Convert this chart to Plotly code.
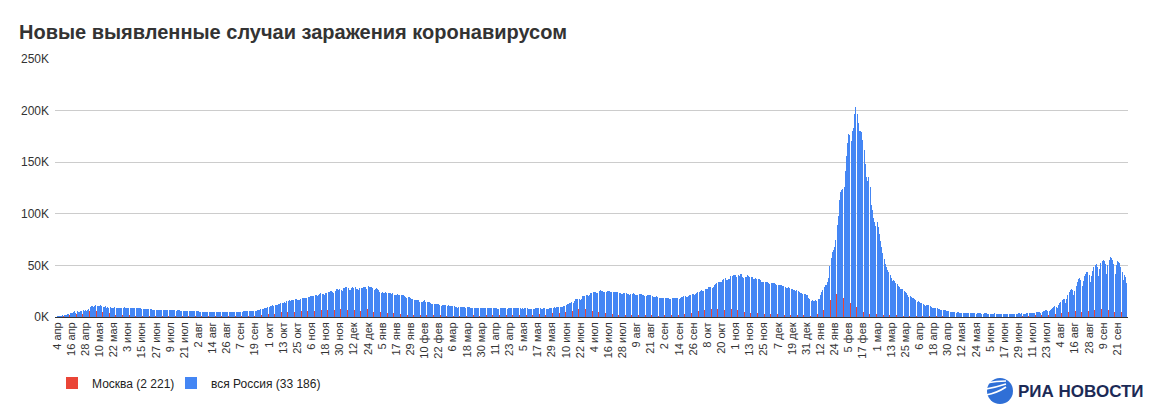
import pandas as pd
import plotly.graph_objects as go

# Новые случаи за сутки, тыс. (вся Россия), 4 апр 2020 - 29 сен 2022
russia_2020 = [
    # апр (с 4-го)
    0.6, 0.7, 1.0, 1.2, 1.2, 1.5, 1.8, 1.7, 2.2, 2.6, 2.8, 3.4, 3.4, 4.1, 4.8, 6.1, 4.3, 5.6, 5.2, 4.8,
    5.8, 6.0, 6.4, 6.2, 6.4, 5.8, 7.1,
    # май
    7.9, 9.6, 10.6, 10.6, 10.1, 10.6, 11.2, 10.7, 10.8, 11.0, 11.7, 10.9, 10.0, 10.0, 10.6, 9.2, 9.7, 8.9,
    9.3, 8.8, 8.8, 8.9, 9.4, 8.6, 8.9, 8.9, 8.3, 8.4, 8.6, 9.0, 9.3,
    # июн
    9.0, 8.9, 8.5, 8.8, 8.7, 8.9, 9.0, 9.0, 8.6, 8.4, 8.8, 9.0, 8.7, 8.8, 8.2, 8.2, 7.8, 7.8, 8.0, 7.9,
    7.7, 7.6, 7.4, 7.2, 7.1, 6.8, 6.9, 6.8, 6.7, 6.7,
    # июл
    6.6, 6.8, 6.6, 6.7, 6.6, 6.4, 6.6, 6.5, 6.6, 6.6, 6.6, 6.6, 6.5, 6.2, 6.4, 6.4, 6.4, 6.2, 6.1, 5.9,
    5.8, 5.9, 5.8, 5.8, 5.9, 5.8, 5.6, 5.4, 5.5, 5.5, 5.5,
    # авг
    5.5, 5.4, 5.2, 5.2, 5.3, 5.2, 5.2, 5.2, 5.1, 5.1, 4.9, 5.1, 5.1, 5.1, 5.1, 5.0, 4.8, 4.7, 4.8, 4.8,
    4.9, 4.9, 4.9, 4.7, 4.7, 4.7, 4.7, 4.8, 5.0, 4.9, 4.7,
    # сен
    4.7, 5.0, 5.0, 5.1, 5.2, 5.2, 5.2, 5.1, 5.4, 5.4, 5.4, 5.5, 5.4, 5.5, 5.7, 5.9, 5.9, 6.1, 6.1, 6.2,
    6.4, 6.6, 6.9, 7.3, 7.6, 8.0, 8.3, 8.5, 8.8, 9.3,
    # окт
    9.9, 10.4, 10.9, 11.2, 11.0, 11.6, 11.3, 11.8, 12.2, 12.8, 13.6, 13.6, 13.9, 14.2, 13.8, 15.2, 15.1,
    16.0, 15.7, 16.3, 16.0, 16.5, 17.3, 17.3, 16.7, 16.6, 16.2, 17.7, 18.3, 18.1, 18.1,
    # ноя
    18.7, 18.3, 19.8, 19.4, 19.9, 20.6, 20.5, 20.4, 21.8, 21.0, 19.9, 21.6, 22.0, 22.8, 22.6, 22.4, 21.0,
    23.6, 23.6, 24.3, 24.6, 24.8, 25.2, 24.3, 23.7, 25.5, 27.5, 27.1, 26.3, 26.7,
    # дек
    26.4, 25.3, 28.1, 28.2, 29.0, 28.8, 28.1, 26.1, 26.2, 27.9, 28.6, 28.1, 28.6, 27.3, 26.7, 26.1, 27.9,
    28.2, 28.2, 28.9, 29.4, 28.8, 26.9, 29.9, 29.3, 28.9, 29.0, 27.8, 26.5, 26.7, 27.7,
]

russia_2021 = [
    # янв
    27.0, 26.3, 24.2, 23.4, 24.2, 23.5, 23.7, 24.1, 23.3, 22.9, 23.3, 22.9, 22.2, 22.9, 21.7, 21.1, 21.2,
    22.0, 21.7, 21.7, 21.3, 20.9, 21.1, 20.0, 19.0, 18.6, 19.2, 19.1, 18.0, 17.7, 17.4,
    # фев
    16.6, 16.6, 16.7, 16.6, 16.0, 15.0, 14.9, 14.9, 15.1, 16.1, 14.5, 14.2, 14.4, 14.2, 13.2, 12.7, 12.8,
    12.9, 12.8, 12.6, 12.4, 12.7, 11.7, 11.0, 11.4, 11.5, 11.5, 11.3,
    # мар
    11.1, 11.4, 11.0, 10.6, 10.9, 11.0, 10.4, 10.0, 9.9, 9.2, 9.8, 9.8, 9.9, 9.5, 9.6, 9.7, 9.2, 9.3, 9.3,
    9.4, 9.2, 9.0, 8.8, 9.1, 9.1, 9.1, 9.1, 8.8, 8.3, 8.3, 8.6,
    # апр
    8.8, 8.7, 8.6, 8.7, 8.6, 8.3, 8.3, 8.3, 8.8, 8.7, 8.7, 8.3, 8.2, 8.1, 8.5, 8.7, 8.9, 8.8, 8.4, 8.3,
    8.1, 9.0, 8.8, 8.7, 8.7, 8.8, 8.3, 8.3, 8.7, 8.8,
    # май
    8.7, 8.4, 7.8, 8.3, 8.0, 8.3, 8.4, 8.5, 8.0, 8.0, 7.8, 7.7, 8.2, 8.2, 8.3, 8.6, 8.6, 8.3, 8.3, 8.2,
    8.2, 8.6, 8.6, 8.1, 8.0, 8.2, 8.5, 8.4, 8.9, 9.1, 9.3,
    # июн
    9.0, 9.4, 9.6, 9.9, 9.3, 9.5, 9.6, 10.4, 10.5, 11.6, 12.5, 13.0, 13.4, 13.7, 14.2, 14.0, 15.9, 17.3,
    17.6, 17.9, 17.4, 16.7, 17.6, 20.2, 20.4, 20.5, 21.7, 21.4, 20.6, 21.0,
    # июл
    23.5, 23.2, 24.4, 24.4, 24.4, 23.4, 23.3, 25.1, 25.8, 25.0, 25.1, 24.1, 23.8, 24.4, 25.3, 25.3, 25.0,
    24.5, 23.8, 23.8, 24.5, 24.0, 23.9, 23.8, 23.3, 22.8, 22.1, 22.6, 23.3, 23.3, 23.6,
    # авг
    22.6, 22.0, 21.6, 22.6, 22.6, 22.8, 22.1, 21.6, 21.3, 21.4, 21.9, 21.9, 21.9, 21.6, 21.0, 20.2, 20.8,
    21.1, 21.0, 20.9, 20.9, 20.0, 19.5, 19.6, 19.6, 19.9, 19.3, 18.9, 18.4, 18.3, 18.8,
    # сен
    18.7, 18.1, 18.4, 18.8, 18.6, 17.9, 17.8, 18.3, 18.3, 18.6, 18.9, 18.9, 18.3, 17.8, 18.8, 19.3, 19.6,
    20.2, 20.0, 19.6, 19.7, 20.2, 21.4, 21.6, 21.9, 22.2, 21.7, 22.4, 23.1, 23.8,
    # окт
    24.5, 25.0, 25.8, 25.6, 25.1, 27.2, 26.8, 27.5, 29.4, 29.4, 29.4, 28.2, 28.7, 31.3, 32.2, 33.2, 34.3,
    34.3, 33.7, 34.1, 36.3, 37.1, 37.7, 35.7, 35.7, 36.4, 36.6, 40.1, 39.8, 40.3, 40.3,
    # ноя
    40.4, 39.2, 40.4, 40.2, 41.3, 41.3, 39.2, 38.1, 39.2, 39.2, 40.8, 40.0, 39.2, 38.8, 38.4, 36.8, 37.2,
    37.4, 37.2, 37.1, 36.9, 35.7, 33.6, 33.6, 34.0, 33.6, 33.7, 33.5, 32.6, 32.1,
    # дек
    32.9, 32.8, 32.9, 32.9, 32.1, 31.3, 30.8, 30.8, 31.1, 30.7, 29.9, 29.7, 29.4, 28.4, 28.4, 28.9, 28.5,
    27.4, 27.0, 26.1, 25.8, 25.6, 25.7, 25.2, 24.7, 23.6, 22.9, 21.9, 21.9, 21.9, 21.4,
]

russia_2022 = [
    # янв
    21.2, 18.9, 17.5, 15.8, 16.0, 15.8, 15.8, 16.2, 15.6, 17.5, 17.5, 21.1, 23.8, 25.8, 29.1, 30.7, 31.3,
    33.9, 38.1, 49.5, 57.2, 63.2, 65.1, 67.8, 74.7, 88.8, 98.0, 113.1, 121.2, 123.5, 124.1,
    # фев
    125.8, 141.9, 155.8, 168.2, 177.3, 176.7, 170.6, 180.5, 183.1, 197.1, 203.9, 197.1, 187.9, 180.4,
    180.2, 179.5, 171.9, 161.5, 148.5, 136.0, 132.1, 135.2, 125.8, 108.4, 103.7, 95.6, 92.3, 88.5,
    # мар
    92.0, 87.0, 80.0, 74.0, 68.0, 62.0, 56.0, 51.0, 48.0, 46.0, 44.0, 41.0, 38.0, 35.0, 36.0, 35.0, 33.0,
    32.0, 30.5, 29.0, 27.0, 27.5, 27.0, 25.0, 24.0, 23.0, 21.5, 19.5, 20.5, 19.5, 18.5,
    # апр
    18.0, 17.2, 16.0, 14.5, 15.5, 14.6, 13.9, 13.4, 12.7, 11.9, 11.0, 11.5, 11.8, 11.2, 10.6, 10.0, 9.2,
    8.3, 8.9, 9.2, 8.6, 8.0, 7.6, 7.0, 6.4, 6.9, 7.2, 6.8, 6.3, 5.9,
    # май
    5.6, 5.2, 4.9, 5.0, 4.7, 4.4, 4.2, 4.4, 4.6, 4.3, 4.2, 3.9, 3.7, 4.1, 4.2, 4.0, 3.8, 3.6, 3.5, 3.7,
    3.6, 3.5, 3.4, 3.2, 3.5, 3.6, 3.5, 3.4, 3.3, 3.1, 3.4,
    # июн
    3.5, 3.4, 3.3, 3.3, 3.2, 2.9, 3.0, 3.3, 3.4, 3.3, 3.2, 3.1, 2.8, 2.9, 3.2, 3.3, 3.2, 3.1, 3.0, 2.7,
    2.9, 3.2, 3.3, 3.3, 3.2, 3.1, 2.9, 3.2, 3.4, 3.5,
    # июл
    3.3, 3.4, 3.2, 3.0, 3.3, 3.5, 3.6, 3.7, 3.8, 3.6, 3.4, 3.9, 4.1, 4.4, 4.6, 4.8, 4.5, 4.2, 5.1, 5.6,
    6.0, 6.4, 6.8, 6.3, 5.9, 7.2, 8.1, 8.9, 9.6, 10.2, 9.8,
    # авг
    9.0, 11.5, 13.5, 15.0, 16.5, 17.5, 17.0, 14.0, 17.0, 21.0, 24.0, 26.5, 27.5, 26.0, 21.0, 25.0, 30.0,
    34.0, 37.0, 38.0, 36.0, 30.0, 35.0, 39.5, 42.0, 43.5, 44.0, 41.0, 34.0, 40.0, 45.0,
    # сен (по 29-е)
    48.0, 50.0, 51.0, 48.5, 40.0, 47.0, 52.0, 54.0, 55.0, 54.5, 51.0, 42.0, 50.0, 55.5, 58.5, 57.5, 55.0,
    51.0, 42.0, 50.0, 54.0, 53.5, 52.0, 48.0, 44.0, 36.0, 40.5, 38.5, 33.186,
]

# Москва, тыс.
moscow_2020 = [
    # апр
    0.4, 0.5, 0.7, 0.7, 0.6, 0.9, 1.1, 1.0, 1.4, 1.4, 1.4, 1.8, 1.7, 1.9, 2.6, 3.6, 2.2, 3.0, 2.5, 1.9,
    2.9, 2.8, 3.0, 2.5, 2.6, 2.2, 3.1,
    # май
    3.6, 5.4, 6.7, 5.9, 5.8, 6.7, 5.8, 5.4, 5.4, 5.7, 6.2, 5.4, 4.7, 4.4, 5.5, 3.5, 3.2, 3.1, 3.5, 2.6,
    2.3, 2.1, 2.5, 2.3, 2.1, 2.6, 2.1, 2.1, 2.3, 2.3, 2.3,
    # июн
    2.3, 2.3, 1.9, 2.0, 2.0, 2.0, 2.0, 1.6, 1.2, 1.2, 1.5, 1.6, 1.6, 1.7, 1.1, 1.1, 1.0, 1.0, 1.0, 0.9,
    0.9, 0.8, 0.7, 0.8, 0.7, 0.6, 0.7, 0.6, 0.7, 0.6,
    # июл
    0.6, 0.7, 0.7, 0.7, 0.7, 0.6, 0.6, 0.6, 0.6, 0.6, 0.6, 0.6, 0.6, 0.6, 0.6, 0.6, 0.6, 0.7, 0.6, 0.6,
    0.6, 0.6, 0.6, 0.6, 0.6, 0.7, 0.7, 0.6, 0.7, 0.7, 0.7,
    # авг
    0.7, 0.7, 0.7, 0.7, 0.7, 0.7, 0.7, 0.7, 0.7, 0.7, 0.7, 0.7, 0.7, 0.7, 0.7, 0.7, 0.6, 0.6, 0.6, 0.6,
    0.7, 0.7, 0.7, 0.6, 0.6, 0.6, 0.6, 0.7, 0.7, 0.6, 0.6,
    # сен
    0.6, 0.7, 0.7, 0.7, 0.7, 0.7, 0.7, 0.7, 0.7, 0.7, 0.7, 0.8, 0.8, 0.8, 0.9, 1.0, 1.0, 1.1, 1.2, 1.1,
    1.1, 1.3, 1.6, 2.0, 2.0, 2.2, 2.3, 2.3, 2.4, 2.7,
    # окт
    2.8, 3.3, 3.5, 3.5, 3.5, 3.2, 3.1, 3.3, 3.5, 4.1, 4.7, 4.5, 4.1, 4.4, 4.6, 5.0, 4.7, 5.5, 5.4, 4.4,
    4.7, 4.2, 5.0, 5.4, 5.2, 4.6, 4.1, 4.6, 5.4, 5.5, 5.5,
    # ноя
    5.5, 5.0, 5.5, 5.5, 5.7, 6.0, 5.6, 5.9, 6.3, 5.0, 5.0, 6.0, 5.8, 6.4, 6.4, 6.2, 5.2, 6.3, 6.6, 6.4,
    7.2, 6.9, 7.1, 6.1, 6.0, 6.6, 7.9, 7.2, 7.0, 7.4,
    # дек
    7.4, 6.2, 7.0, 7.3, 7.2, 7.6, 6.8, 6.0, 5.9, 7.0, 6.4, 5.2, 6.4, 5.9, 5.1, 5.2, 5.0, 6.1, 6.4, 6.3,
    6.3, 6.1, 5.4, 8.2, 7.2, 7.2, 6.5, 5.8, 5.2, 5.1, 5.7,
]

moscow_2021 = [
    # янв
    5.6, 4.6, 4.4, 4.6, 4.0, 4.7, 4.7, 4.5, 4.5, 4.0, 3.9, 4.1, 3.4, 3.5, 3.4, 3.1, 2.6, 2.6, 2.7, 2.8,
    2.5, 2.5, 2.3, 2.2, 1.9, 1.8, 2.0, 2.1, 1.9, 1.8, 1.7,
    # фев
    1.6, 1.5, 1.8, 2.0, 1.9, 1.8, 1.7, 1.4, 1.6, 1.8, 1.7, 1.7, 1.7, 1.6, 1.3, 1.6, 1.7, 1.6, 1.6, 1.6,
    1.6, 1.4, 1.4, 1.7, 1.6, 1.7, 1.6, 1.4,
    # мар
    1.2, 1.4, 1.4, 1.4, 1.2, 1.2, 1.2, 1.2, 1.2, 1.3, 1.2, 1.4, 1.4, 1.2, 1.1, 1.4, 1.2, 1.3, 1.5, 1.5,
    1.3, 1.2, 1.5, 1.5, 1.7, 1.8, 1.8, 1.4, 1.1, 1.3, 1.6,
    # апр
    1.7, 1.8, 1.7, 1.6, 1.4, 1.3, 1.5, 1.5, 1.7, 1.7, 1.5, 1.3, 1.4, 1.4, 1.6, 1.9, 1.8, 1.7, 1.6, 1.5,
    1.6, 2.0, 2.0, 1.8, 1.9, 1.8, 1.5, 1.6, 1.8, 1.7,
    # май
    1.7, 1.7, 1.4, 1.6, 1.5, 1.6, 1.6, 1.8, 1.3, 1.3, 1.4, 1.5, 1.8, 1.9, 2.1, 2.4, 2.1, 2.5, 2.8, 3.0,
    2.6, 2.8, 3.0, 2.4, 2.7, 2.8, 3.0, 3.0, 3.5, 3.5, 3.5,
    # июн
    3.0, 3.2, 3.1, 3.5, 3.4, 3.2, 3.0, 3.5, 3.7, 5.0, 5.3, 6.7, 6.6, 6.7, 5.8, 5.6, 5.9, 9.1, 9.1, 9.1,
    7.9, 7.1, 6.7, 7.9, 7.9, 7.4, 7.4, 6.8, 6.1, 5.9,
    # июл
    6.7, 5.5, 5.4, 5.4, 5.0, 4.6, 4.6, 4.4, 4.2, 4.6, 4.6, 3.8, 3.3, 3.5, 3.5, 3.4, 3.0, 2.9, 2.6, 2.6,
    2.5, 2.4, 2.3, 2.3, 2.1, 2.2, 2.2, 2.1, 1.9, 1.8, 2.1,
    # авг
    2.1, 2.1, 1.9, 1.9, 1.9, 2.0, 2.0, 1.8, 1.8, 1.7, 1.8, 1.8, 1.9, 1.9, 1.8, 1.7, 1.6, 1.6, 1.6, 1.7,
    1.7, 1.6, 1.4, 1.3, 1.3, 1.4, 1.5, 1.4, 1.4, 1.3, 1.4,
    # сен
    1.6, 1.5, 1.6, 1.6, 1.5, 1.4, 1.6, 1.8, 1.9, 2.1, 2.2, 2.1, 2.0, 2.2, 2.6, 2.8, 2.8, 3.0, 3.0, 3.0,
    3.1, 3.5, 4.0, 4.4, 4.2, 4.7, 5.0, 5.0, 5.7, 5.9,
    # окт
    6.1, 6.2, 6.4, 6.4, 6.7, 6.6, 6.9, 7.4, 7.9, 8.0, 8.0, 7.6, 8.0, 7.9, 8.0, 7.8, 7.5, 7.5, 7.1, 6.9,
    7.0, 7.1, 7.0, 6.7, 7.2, 7.3, 7.8, 8.0, 8.0, 8.0, 7.4,
    # ноя
    6.9, 6.9, 6.5, 6.0, 5.7, 5.6, 5.3, 5.0, 5.0, 5.3, 5.0, 4.7, 4.4, 4.3, 4.0, 3.6, 3.7, 3.7, 3.6, 3.4,
    3.2, 3.1, 3.0, 3.1, 3.1, 3.0, 3.0, 2.9, 2.9, 2.7,
    # дек
    2.6, 2.7, 2.7, 2.7, 2.6, 2.6, 2.5, 2.6, 2.6, 2.5, 2.5, 2.4, 2.4, 2.2, 2.1, 2.5, 2.4, 2.2, 2.2, 2.0,
    2.0, 2.0, 2.0, 1.9, 1.9, 1.8, 1.7, 1.8, 1.7, 1.7, 1.9,
]

moscow_2022 = [
    # янв
    1.7, 1.6, 1.5, 1.3, 1.4, 1.5, 1.5, 1.6, 1.6, 2.5, 2.5, 3.6, 5.1, 6.1, 7.0, 7.0, 7.5, 8.2, 10.8, 15.0,
    16.6, 17.5, 17.6, 18.4, 19.8, 22.3, 22.9, 24.6, 25.2, 23.8, 21.7,
    # фев
    18.2, 18.3, 17.7, 18.5, 16.5, 15.6, 13.4, 12.3, 11.1, 10.7, 10.8, 9.6, 7.9, 6.3, 5.6, 5.6, 5.3, 5.0,
    4.2, 3.5, 3.7, 4.2, 3.2, 3.1, 2.9, 2.8, 2.5, 2.4,
    # мар
    2.8, 2.6, 2.3, 2.1, 1.9, 1.8, 1.8, 1.9, 1.8, 1.9, 1.8, 1.6, 1.4, 1.4, 1.7, 1.6, 1.6, 1.6, 1.6, 1.5,
    1.3, 1.3, 1.3, 1.3, 1.3, 1.2, 1.1, 1.0, 1.1, 1.1, 1.0,
    # апр
    1.0, 0.9, 0.8, 0.7, 0.8, 0.8, 0.8, 0.8, 0.7, 0.7, 0.6, 0.6, 0.6, 0.6, 0.6, 0.6, 0.5, 0.5, 0.6, 0.6,
    0.6, 0.6, 0.5, 0.5, 0.5, 0.5, 0.5, 0.5, 0.5, 0.5,
    # май
    0.5, 0.4, 0.4, 0.5, 0.5, 0.4, 0.4, 0.3, 0.4, 0.4, 0.4, 0.5, 0.4, 0.4, 0.4, 0.4, 0.4, 0.4, 0.4, 0.4,
    0.3, 0.4, 0.4, 0.4, 0.4, 0.4, 0.4, 0.3, 0.3, 0.4, 0.4,
    # июн
    0.4, 0.4, 0.4, 0.4, 0.3, 0.3, 0.3, 0.4, 0.4, 0.4, 0.4, 0.4, 0.3, 0.3, 0.4, 0.4, 0.4, 0.4, 0.4, 0.3,
    0.4, 0.4, 0.5, 0.5, 0.5, 0.5, 0.4, 0.5, 0.6, 0.6,
    # июл
    0.6, 0.7, 0.7, 0.6, 0.8, 0.9, 1.0, 1.1, 1.1, 1.1, 1.0, 1.3, 1.5, 1.6, 1.7, 1.8, 1.8, 1.6, 2.1, 2.3,
    2.4, 2.6, 2.6, 2.3, 2.0, 2.7, 3.0, 3.2, 3.4, 3.4, 3.0,
    # авг
    2.6, 3.3, 3.7, 3.9, 4.1, 4.2, 3.7, 3.0, 3.9, 4.7, 5.1, 5.4, 5.4, 4.8, 3.6, 4.9, 5.8, 6.2, 6.5, 6.8,
    6.1, 4.5, 5.7, 6.7, 7.0, 7.2, 7.1, 6.2, 4.6, 5.9, 7.0,
    # сен
    7.1, 7.2, 7.0, 6.2, 4.5, 5.8, 7.0, 7.3, 7.5, 7.2, 6.4, 4.5, 5.9, 7.2, 7.6, 7.7, 7.2, 6.3, 4.4, 5.7,
    6.8, 7.0, 6.9, 6.2, 5.2, 3.5, 4.6, 4.2, 2.221,
]

month_abbr = ["янв", "фев", "мар", "апр", "мая", "июн", "июл", "авг", "сен", "окт", "ноя", "дек"]
y_tick_vals = [0, 50000, 100000, 150000, 200000, 250000]
y_tick_text = ["0K", "50K", "100K", "150K", "200K", "250K"]

russia = [v * 1000 for v in russia_2020 + russia_2021 + russia_2022]
moscow = [v * 1000 for v in moscow_2020 + moscow_2021 + moscow_2022]

dates = pd.date_range("2020-04-04", periods=len(russia), freq="D")
tick_dates = dates[::12]
tick_text = [f"{d.day} {month_abbr[d.month - 1]}" for d in tick_dates]

# plot area in pixels
L, R, T, B = 55, 1128, 59, 317
DAY = 86400000  # ms


def px_x(x):
    return (x - L) / (R - L)


def px_y(y):
    return (B - y) / (B - T)


fig = go.Figure()
# sheets-style grouped columns: thin Moscow column on the left of each day, Russia on the right
fig.add_trace(go.Bar(x=dates, y=moscow, name="Москва (2 221)", legendwidth=74,
                     marker=dict(color="rgba(234,67,53,0.99)", line_width=0),
                     offset=-0.5 * DAY, width=0.15 * DAY))
fig.add_trace(go.Bar(x=dates, y=russia, name="вся Россия (33 186)",
                     marker=dict(color="rgba(66,133,244,0.99)", line_width=0),
                     offset=-0.35 * DAY, width=0.85 * DAY))

# logo: emblem + text
shapes = [
    dict(type="circle", xref="paper", yref="paper",
         x0=px_x(987), x1=px_x(1013), y0=px_y(404), y1=px_y(378),
         fillcolor="#2f6fd6", line_width=0),
]
for y0, y1 in [(383, 387), (389, 390), (395, 393)]:
    shapes.append(dict(type="path", xref="paper", yref="paper",
                       path=f"M {px_x(986)},{px_y(y0)} Q {px_x(997)},{px_y(y0 - 2)} {px_x(1006)},{px_y(y1 - 6)}",
                       line=dict(color="white", width=1.6)))

fig.update_layout(
    width=1150, height=410,
    margin=dict(l=L, r=1150 - R, t=T, b=410 - B),
    paper_bgcolor="white", plot_bgcolor="white",
    font=dict(family="Liberation Sans, Arial, sans-serif", size=12, color="#333333"),
    title=dict(text="Новые выявленные случаи заражения коронавирусом",
               x=19 / 1150, xanchor="left", xref="container",
               y=1 - 32 / 410, yanchor="middle", yref="container",
               font=dict(size=20, color="#333333", weight="bold")),
    barmode="overlay", bargap=0, bargroupgap=0,
    showlegend=True,
    legend=dict(orientation="h", x=px_x(52), xanchor="left", y=px_y(383), yanchor="middle",
                font=dict(size=12, color="#222222"), bgcolor="rgba(0,0,0,0)"),
    shapes=shapes,
    annotations=[dict(text="<b>РИА НОВОСТИ</b>", xref="paper", yref="paper",
                      x=px_x(1016), y=px_y(391), xanchor="left", yanchor="middle",
                      showarrow=False, font=dict(size=17, color="#1c2a56"))],
)
fig.update_xaxes(
    type="date",
    range=[dates[0] - pd.Timedelta(days=1.7), dates[0] + pd.Timedelta(days=909.07)],
    tickvals=tick_dates, ticktext=tick_text, tickangle=-90,
    showgrid=False, showline=True, linecolor="#333333", linewidth=1,
    ticks="", tickfont=dict(size=11, color="#333333"),
)
fig.update_yaxes(
    range=[0, 250000], tickvals=y_tick_vals, ticktext=y_tick_text,
    showgrid=True, gridcolor="#cccccc", gridwidth=1,
    zeroline=False, showline=False, ticks="",
    ticklabelstandoff=5, tickfont=dict(size=12, color="#333333"),
)

# page body has an 8px default margin; drop it so the figure sits at the window corner
fig.write_html("out.html", config={"displayModeBar": False},
               post_script="document.body.style.margin = '0';")
